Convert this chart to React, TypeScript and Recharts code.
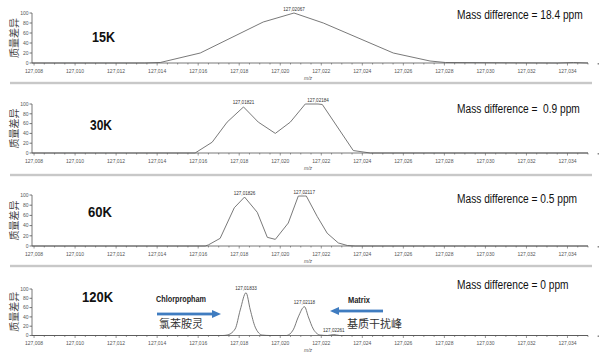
import React from 'react';
import { LineChart, Line, XAxis, YAxis, LabelList } from 'recharts';

// m/z values and relative intensity (%) for each resolution
const mz15K = [127.0079, 127.0134, 127.01415, 127.0161, 127.01917, 127.02067, 127.0221, 127.02551, 127.0273, 127.02805, 127.0335, 127.0343, 127.035];
const int15K = [0, 0, 1, 20, 82, 100, 80, 20, 4, 1, 0, 1, 0];
const peaks15K = [127.02067];

const mz30K = [127.0079, 127.01585, 127.01668, 127.01741, 127.01821, 127.01893, 127.01976, 127.02049, 127.02122, 127.02184, 127.02205, 127.02356, 127.02439, 127.035];
const int30K = [0, 0, 22, 63, 94, 63, 40, 63, 100, 100, 99, 5, 0, 0];
const peaks30K = [127.01821, 127.02184];

const mz60K = [127.0079, 127.01634, 127.01649, 127.01707, 127.01776, 127.01826, 127.01888, 127.01937, 127.01976, 127.02039, 127.02088, 127.02117, 127.02127, 127.0218, 127.02229, 127.02283, 127.02327, 127.02365, 127.035];
const int60K = [0, 0, 2, 15, 75, 96, 66, 17, 13, 45, 98, 98, 98, 58, 25, 6, 1, 0, 0];
const peaks60K = [127.01826, 127.02117];

const mz120K = [127.0079, 127.0172, 127.01741, 127.0178, 127.01805, 127.01833, 127.01854, 127.01878, 127.01912, 127.0195, 127.0203, 127.02063, 127.02088, 127.02118, 127.02137, 127.02161, 127.02195, 127.0223, 127.02261, 127.0229, 127.035];
const int120K = [0, 0, 1, 14, 55, 92, 55, 18, 1, 0, 0, 12, 40, 62, 40, 14, 1, 0, 2, 0, 0];
const peaks120K = [127.01833, 127.02118, 127.02261];

const resolutions = ['15K', '30K', '60K', '120K'];
const massDiffs = ['18.4', ' 0.9', '0.5', '0'];

const xTicks = [127.008, 127.01, 127.012, 127.014, 127.016, 127.018, 127.02, 127.022, 127.024, 127.026, 127.028, 127.03, 127.032, 127.034];
const yTicks = [0, 20, 40, 60, 80, 100];

const fmt = (v: number, d: number) => v.toFixed(d).replace('.', ',');

const build = (mz: number[], vals: number[], peaks: number[]) =>
  mz.map((m, i) => ({
    mz: m,
    v: vals[i],
    tag: peaks.includes(m) ? fmt(m, 5) : undefined,
  }));

const series = [
  build(mz15K, int15K, peaks15K),
  build(mz30K, int30K, peaks30K),
  build(mz60K, int60K, peaks60K),
  build(mz120K, int120K, peaks120K),
];

// minor ticks every 0.0005 between the labelled ones
const allTicks: number[] = [];
xTicks.forEach((t) => {
  for (let k = 0; k < 4; k++) allTicks.push(Math.round((t + k * 0.0005) * 1e5) / 1e5);
});
allTicks.push(127.0355);

const XTick = (props: any) => {
  const { x, y, payload } = props;
  const v = payload.value;
  const major = xTicks.some((t) => Math.abs(t - v) < 1e-7);
  return (
    <g>
      <line x1={x} x2={x} y1={y} y2={y + (major ? 2.5 : 1.5)} stroke="#555" strokeWidth={0.6} />
      {major && (
        <text x={x} y={y + 9.5} textAnchor="middle" fontSize={5} fill="#555">
          {fmt(v, 3)}
        </text>
      )}
    </g>
  );
};

const PeakLabel = (props: any) => {
  const { x, y, value } = props;
  if (value === undefined || value === null || value === '') return null;
  return (
    <text x={x} y={y - 2.5} textAnchor="middle" fontSize={4.6} fill="#333">
      {value}
    </text>
  );
};

// plot area top / height of each panel
const layout = [
  { top: 13, h: 50 },
  { top: 104, h: 49 },
  { top: 195, h: 51 },
  { top: 288.5, h: 46.5 },
];
const MT = 12;
const AX = 22;

// condensed look: the narrow faces are not installed, so squeeze horizontally
const resX = [92, 90, 88, 82];
const resY = [42, 130, 217, 302];
const resW = [23, 22, 24, 31];
const mdY = [18.5, 113, 203, 289];

const cjk = "'Noto Sans CJK SC', sans-serif";

export default function App() {
  return (
    <div
      style={{
        position: 'absolute',
        left: 0,
        top: 0,
        width: 600,
        height: 358,
        background: '#fff',
        overflow: 'hidden',
        fontFamily: "'Liberation Sans', Arial, sans-serif",
      }}
    >
      {series.map((data, i) => (
        <div key={i} style={{ position: 'absolute', left: 0, top: layout[i].top - MT }}>
          <LineChart
            width={600}
            height={MT + layout[i].h + AX}
            data={data}
            margin={{ top: MT, right: 12, left: 8, bottom: 0 }}
          >
            <XAxis
              dataKey="mz"
              type="number"
              domain={[127.0079, 127.035]}
              allowDataOverflow
              ticks={allTicks}
              interval={0}
              tick={<XTick />}
              tickLine={false}
              tickSize={0}
              tickMargin={0}
              height={AX}
              stroke="#555"
              strokeWidth={0.8}
            />
            <YAxis
              type="number"
              domain={[0, 100]}
              ticks={yTicks}
              interval={0}
              width={24}
              tickSize={2.5}
              tickMargin={1}
              stroke="#555"
              strokeWidth={0.8}
              tick={{ fontSize: 5, fill: '#555' }}
            />
            <Line
              dataKey="v"
              type={i === 3 ? 'monotone' : 'linear'}
              stroke="#6a6a6a"
              strokeWidth={0.9}
              dot={false}
              isAnimationActive={false}
            >
              <LabelList dataKey="tag" content={PeakLabel} />
            </Line>
          </LineChart>
        </div>
      ))}
      <svg
        width={600}
        height={358}
        style={{ position: 'absolute', left: 0, top: 0, pointerEvents: 'none' }}
      >
        {[83, 175, 266].map((y) => (
          <rect key={y} x={10} y={y - 1.2} width={582} height={2.4} fill="#c8c8c8" />
        ))}
        {layout.map((p, i) => {
          const mid = p.top + p.h / 2;
          const base = p.top + p.h;
          return (
            <g key={i}>
              <text
                x={0}
                y={0}
                transform={`translate(17.5 ${mid}) rotate(-90)`}
                textAnchor="middle"
                fontSize={10}
                fill="#444"
                fontFamily={cjk}
              >
                质量差异
              </text>
              <text
                x={resX[i]}
                y={resY[i]}
                fontSize={15.5}
                fontWeight="bold"
                fill="#111"
                textLength={resW[i]}
                lengthAdjust="spacingAndGlyphs"
              >
                {resolutions[i]}
              </text>
              <text
                x={0}
                y={0}
                transform={`translate(457 ${mdY[i]}) scale(0.815 1)`}
                fontSize={12.5}
                fill="#111"
                style={{ whiteSpace: 'pre' }}
              >
                {`Mass difference = ${massDiffs[i]} ppm`}
              </text>
              <text x={308} y={base + 17} textAnchor="middle" fontSize={5} fontStyle="italic" fill="#555">
                m/z
              </text>
            </g>
          );
        })}
        <text x={156} y={302} fontSize={9} fontWeight="bold" fill="#222" textLength={50} lengthAdjust="spacingAndGlyphs">
          Chlorpropham
        </text>
        <rect x={157} y={312.6} width={56} height={2.8} fill="#3f7cc0" />
        <polygon points="212,310 221,314 212,318" fill="#3f7cc0" />
        <text x={159} y={328} fontSize={11} fill="#333" fontFamily={cjk}>
          氯苯胺灵
        </text>
        <text x={348} y={303} fontSize={9} fontWeight="bold" fill="#222" textLength={22} lengthAdjust="spacingAndGlyphs">
          Matrix
        </text>
        <rect x={338} y={309.6} width={45} height={2.8} fill="#3f7cc0" />
        <polygon points="339,307 330,311 339,315" fill="#3f7cc0" />
        <text x={347} y={328} fontSize={11} fill="#333" fontFamily={cjk}>
          基质干扰峰
        </text>
      </svg>
    </div>
  );
}
